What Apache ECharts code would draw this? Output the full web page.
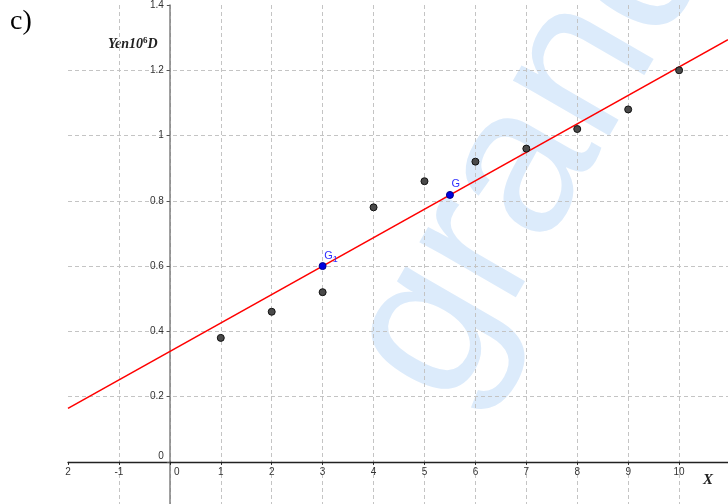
<!DOCTYPE html>
<html><head><meta charset="utf-8">
<script src="https://cdn.jsdelivr.net/npm/echarts@6/dist/echarts.min.js"></script>
<style>html,body{margin:0;padding:0;background:#fff}#c{width:728px;height:504px}</style>
</head><body><div id="c"></div>
<script>
const xValues = [1, 2, 3, 4, 5, 6, 7, 8, 9, 10];
const yValues = [0.38, 0.46, 0.52, 0.78, 0.86, 0.92, 0.96, 1.02, 1.08, 1.2];
const centroidNames = ['G1', 'G'];
const centroidX = [3, 5.5];
const centroidY = [0.6, 0.818];
const fitLineX = [-2, 10.96];
const fitLineY = [0.164, 1.294];
const yTickValues = [0, 0.2, 0.4, 0.6, 0.8, 1, 1.2, 1.4];

const chart = echarts.init(document.getElementById('c'), null, {renderer: 'canvas'});
const dash = {color: '#c4c4c4', width: 1, type: [4, 3]};
const GRID = {left: 68, right: 0, top: 5, bottom: 0, containLabel: false, outerBoundsMode: 'none'};
chart.setOption({
  animation: false,
  backgroundColor: '#fff',
  grid: GRID,
  xAxis: {
    type: 'value', min: -2, max: 10.96, interval: 1, position: 'bottom', offset: 0,
    axisLine: {onZero: false, lineStyle: {color: '#222', width: 1.3}},
    axisTick: {show: true, length: 3, lineStyle: {color: '#222'}},
    axisLabel: {
      fontSize: 10, color: '#333', margin: 5, fontFamily: 'Liberation Sans',
      showMaxLabel: false, hideOverlap: false,
      formatter: v => v === -2 ? '2' : (v === 0 ? '{z|0}' : String(v)),
      rich: {z: {fontSize: 10, color: '#333', padding: [0, 0, 0, 14], fontFamily: 'Liberation Sans'}}
    },
    splitLine: {show: true, lineStyle: dash, showMinLine: false, showMaxLine: false}
  },
  yAxis: {
    type: 'value', min: -0.129, max: 1.4, position: 'left', offset: 0,
    axisLine: {onZero: false, lineStyle: {color: '#808080', width: 1.5}},
    axisTick: {show: true, length: 3, customValues: yTickValues, lineStyle: {color: '#555'}},
    axisLabel: {
      fontSize: 10, color: '#333', margin: 6, fontFamily: 'Liberation Sans',
      customValues: yTickValues,
      formatter: v => Math.abs(v) < 1e-9 ? '{z|0}' : String(Math.round(v * 10) / 10),
      rich: {z: {fontSize: 10, color: '#333', padding: [0, 0, 12, 0], fontFamily: 'Liberation Sans'}}
    },
    splitLine: {show: true, lineStyle: dash, showMinLine: false, showMaxLine: false}
  },
  graphic: [
    {type: 'text', z: -10, silent: true, x: 400, y: 382, rotation: 1.047,
      style: {text: 'grand', fontSize: 210, fontFamily: 'Liberation Sans', fontWeight: 'normal',
        fill: '#dcebfb', textAlign: 'left', textVerticalAlign: 'middle'}},
    {type: 'text', left: 10, top: 8,
      style: {text: 'c)', fontSize: 28, fontFamily: 'Liberation Serif', fill: '#000'}},
    {type: 'text', left: 108, top: 36,
      style: {text: 'Yen10{s|6}D', fontSize: 14, fontFamily: 'Liberation Serif', fontWeight: 'bold',
        fontStyle: 'italic', fill: '#222',
        rich: {s: {fontSize: 9, fontFamily: 'Liberation Serif', fontWeight: 'bold', verticalAlign: 'top', padding: [0, 0, 8, 0], fill: '#222'}}}},
    {type: 'text', left: 703, top: 473,
      style: {text: 'X', fontSize: 15, fontFamily: 'Liberation Serif', fontWeight: 'bold', fontStyle: 'italic', fill: '#222'}}
  ],
  series: [
    {type: 'line', data: fitLineX.map((x, i) => [x, fitLineY[i]]), symbol: 'none',
      lineStyle: {color: '#ff0000', width: 1.6}, z: 3},
    {type: 'scatter', data: xValues.map((x, i) => [x, yValues[i]]), symbolSize: 7,
      itemStyle: {color: '#4a4a4a', borderColor: '#111', borderWidth: 1, opacity: 1}, z: 4},
    {type: 'scatter', data: centroidX.map((x, i) => ({value: [x, centroidY[i]], name: centroidNames[i]})),
      symbolSize: 7, itemStyle: {color: '#0000e0', borderColor: '#00008a', borderWidth: 1, opacity: 1}, z: 5,
      label: {show: true, position: [5.5, -6.5], align: 'left', verticalAlign: 'middle',
        color: '#3030ff', fontSize: 11, fontFamily: 'Liberation Sans',
        formatter: p => p.name === 'G1' ? 'G{b|1}' : 'G',
        rich: {b: {fontSize: 9, color: '#3030ff', padding: [8, 0, 0, 0], fontFamily: 'Liberation Sans'}}}}
  ]
});
// place the axes through the origin (x = 0 and y = 0), as in the reference
const origin = chart.convertToPixel({gridIndex: 0}, [0, 0]);
const H = chart.getHeight();
chart.setOption({
  xAxis: {offset: -((H - GRID.bottom) - origin[1])},
  yAxis: {offset: -(origin[0] - GRID.left)}
});
</script></body></html>
